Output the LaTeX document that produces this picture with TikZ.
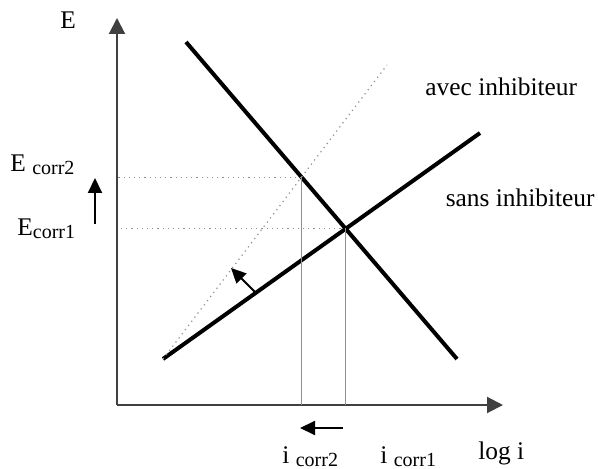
\documentclass[tikz,border=0pt]{standalone}
\usepackage{fontspec}
\setmainfont{Liberation Serif}
\usepackage{tikz}
\usetikzlibrary{arrows.meta, calc, positioning}
\definecolor{achse}{HTML}{404040}
\definecolor{hilfs}{HTML}{909090}

\newcommand{\idx}[1]{\raisebox{-1.5pt}{\fontsize{10}{12}\selectfont #1}}

\begin{document}
\begin{tikzpicture}[x=0.5pt, y=-0.5pt,
        lbl/.style={anchor=base west, inner sep=0pt, font=\fontsize{12.7}{15}\selectfont},
        axis/.style={-{Triangle[length=8pt, width=8pt]}, line width=1pt, achse},
        kurve/.style={line width=2pt, black},
        hilfe/.style={dotted, line width=0.6pt, hilfs},
        lot/.style={line width=0.7pt, hilfs},
        pfeil/.style={-{Triangle[length=7.5pt, width=7pt]}, line width=1pt, black}
      ]
      \useasboundingbox (0,0) rectangle (598,469);

      % Achsen
      \coordinate (o)  at (117,405);
      \coordinate (ey) at (117,18);
      \coordinate (ix) at (503,405);
      \draw[axis] (o) -- (ey);
      \draw[axis] (o) -- (ix);

      % Geraden
      \coordinate (a0) at (163,359);
      \coordinate (a1) at (480,133);
      \coordinate (k0) at (186,42);
      \coordinate (k1) at (457,359);
      \coordinate (d1) at (387,65);
      \draw[kurve] (a0) -- (a1);
      \draw[kurve] (k0) -- (k1);
      \draw[hilfe] (a0) -- (d1);

      % Schnittpunkte
      \coordinate (s1) at (intersection of a0--a1 and k0--k1);
      \coordinate (s2) at (intersection of a0--d1 and k0--k1);
      \draw[hilfe] (s1) -- (s1 -| o);
      \draw[hilfe] (s2) -- (s2 -| o);
      \draw[lot] (s1) -- (s1 |- o);
      \draw[lot] (s2) -- (s2 |- o);

      % Beschriftung
      \node[lbl] (E)     at (60,29)  {E};
      \node[lbl] (ec2)   at (10,172) {E \idx{corr2}};
      \node[lbl] (ec1)   at (17,236) {E\idx{corr1}};
      \node[lbl] (ic2)   at (282,463) {i \idx{corr2}};
      \node[lbl] (ic1)   at (380,463) {i \idx{corr1}};
      \node[lbl] (logi)  at (478,459) {log i};
      \node[lbl] (avec)  at (425,96)  {avec inhibiteur};
      \node[lbl, anchor=base east] (sans) at (595,207) {sans inhibiteur};

      % Verschiebungen
      \coordinate (eu) at (95,224);
      \coordinate (eo) at (95,178);
      \draw[pfeil] (eu) -- (eo);
      \coordinate (ir) at (343,428);
      \coordinate (il) at (300,428);
      \draw[pfeil] (ir) -- (il);
      \coordinate (pu) at (255,292);
      \coordinate (po) at (231,268);
      \draw[pfeil] (pu) -- (po);
    \end{tikzpicture}
\end{document}
